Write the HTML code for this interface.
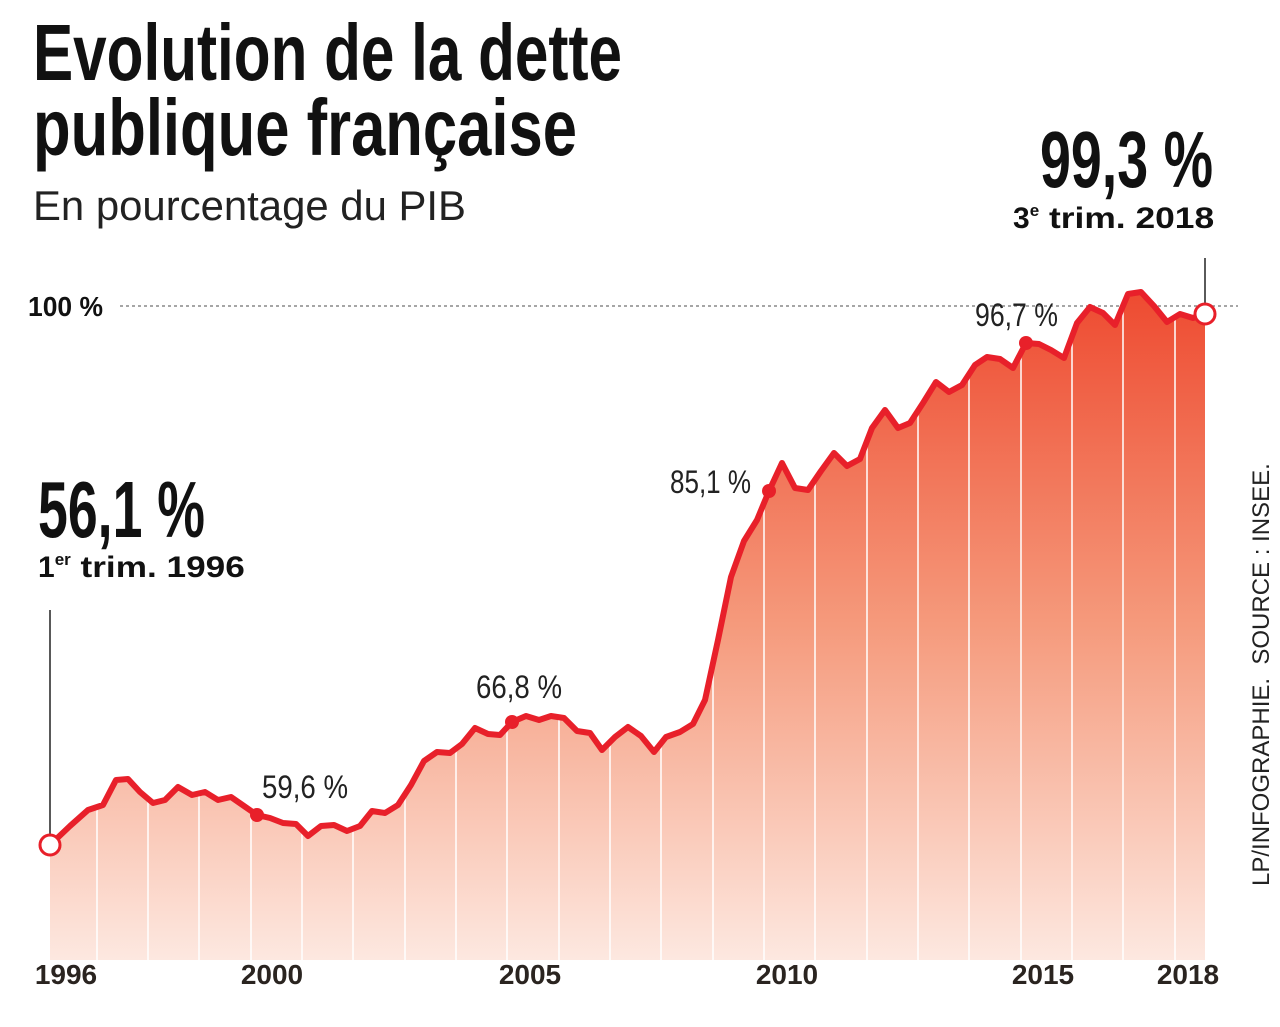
<!DOCTYPE html>
<html><head><meta charset="utf-8"><style>
body{margin:0;background:#fff;width:1280px;height:1027px;overflow:hidden;position:relative;font-family:"Liberation Sans",sans-serif;color:#111}
.t{position:absolute;white-space:nowrap}
</style></head><body>
<div class="t" style="left:1248px;top:886px;font-size:24px;color:#222;transform:rotate(-90deg);transform-origin:left top">LP/INFOGRAPHIE.&nbsp; SOURCE : INSEE.</div>
<svg width="1280" height="1027" style="position:absolute;left:0;top:0">
<defs><linearGradient id="g" x1="0" y1="290" x2="0" y2="960" gradientUnits="userSpaceOnUse">
<stop offset="0" stop-color="#ee4a30"/><stop offset="0.5" stop-color="#f59a7c"/><stop offset="1" stop-color="#fde8e0"/></linearGradient>
<clipPath id="c"><polygon points="50,960 50,845 70,826 88,810 103,805 116,780 128,779 140,792 153,803 165,800 178,787 192,795 205,792 218,800 231,797 244,806 257,815 270,818 283,823 296,824 308,836 321,826 334,825 347,831 360,826 372,811 385,813 398,805 411,785 424,761 437,752 450,753 462,744 475,728 488,734 500,735 512,722 526,716 539,720 551,716 564,718 577,731 590,733 602,750 615,737 628,727 641,736 654,752 666,737 680,732 693,724 705,700 718,640 731,577 744,541 757,520 769,491 782,463 795,488 808,490 821,471 834,453 847,466 860,459 872,428 885,410 898,428 910,423 923,403 936,382 949,392 962,385 975,365 987,357 1000,359 1013,368 1026,343 1039,344 1051,350 1064,358 1077,323 1090,307 1103,313 1115,325 1128,294 1141,292 1154,306 1167,322 1180,314 1193,318 1205,314 1205,960"/></clipPath></defs>
<line x1="120" y1="306" x2="1238" y2="306" stroke="#888" stroke-width="1.5" stroke-dasharray="3,3"/>
<line x1="1205" y1="258" x2="1205" y2="306" stroke="#222" stroke-width="1.5"/>
<line x1="50" y1="610" x2="50" y2="838" stroke="#222" stroke-width="1.5"/>
<g clip-path="url(#c)">
<rect x="40" y="280" width="1180" height="690" fill="url(#g)"/>
<g stroke="#fff" stroke-width="1.5">
<line x1="97" y1="280" x2="97" y2="960"/><line x1="148" y1="280" x2="148" y2="960"/><line x1="199" y1="280" x2="199" y2="960"/><line x1="251" y1="280" x2="251" y2="960"/><line x1="302" y1="280" x2="302" y2="960"/><line x1="353" y1="280" x2="353" y2="960"/><line x1="405" y1="280" x2="405" y2="960"/><line x1="456" y1="280" x2="456" y2="960"/><line x1="507" y1="280" x2="507" y2="960"/><line x1="559" y1="280" x2="559" y2="960"/><line x1="610" y1="280" x2="610" y2="960"/><line x1="661" y1="280" x2="661" y2="960"/><line x1="713" y1="280" x2="713" y2="960"/><line x1="764" y1="280" x2="764" y2="960"/><line x1="815" y1="280" x2="815" y2="960"/><line x1="867" y1="280" x2="867" y2="960"/><line x1="918" y1="280" x2="918" y2="960"/><line x1="969" y1="280" x2="969" y2="960"/><line x1="1021" y1="280" x2="1021" y2="960"/><line x1="1072" y1="280" x2="1072" y2="960"/><line x1="1123" y1="280" x2="1123" y2="960"/><line x1="1175" y1="280" x2="1175" y2="960"/>
</g></g>
<polyline fill="none" stroke="#e8202a" stroke-width="6" stroke-linejoin="round" points="50,845 70,826 88,810 103,805 116,780 128,779 140,792 153,803 165,800 178,787 192,795 205,792 218,800 231,797 244,806 257,815 270,818 283,823 296,824 308,836 321,826 334,825 347,831 360,826 372,811 385,813 398,805 411,785 424,761 437,752 450,753 462,744 475,728 488,734 500,735 512,722 526,716 539,720 551,716 564,718 577,731 590,733 602,750 615,737 628,727 641,736 654,752 666,737 680,732 693,724 705,700 718,640 731,577 744,541 757,520 769,491 782,463 795,488 808,490 821,471 834,453 847,466 860,459 872,428 885,410 898,428 910,423 923,403 936,382 949,392 962,385 975,365 987,357 1000,359 1013,368 1026,343 1039,344 1051,350 1064,358 1077,323 1090,307 1103,313 1115,325 1128,294 1141,292 1154,306 1167,322 1180,314 1193,318 1205,314"/>
<g fill="#e8202a"><circle cx="257" cy="815" r="7"/><circle cx="512" cy="722" r="7"/><circle cx="769" cy="491" r="7"/><circle cx="1026" cy="343" r="7"/></g>
<circle cx="50" cy="845" r="10" fill="#fff" stroke="#e8202a" stroke-width="3"/>
<circle cx="1205" cy="314" r="10" fill="#fff" stroke="#e8202a" stroke-width="3"/>
<g font-family="Liberation Sans Narrow,Liberation Sans,sans-serif" font-weight="bold" fill="#111" font-size="80">
<text x="33" y="80" textLength="589" lengthAdjust="spacingAndGlyphs">Evolution de la dette</text>
<text x="33" y="155" textLength="544" lengthAdjust="spacingAndGlyphs">publique française</text>
<text x="1040" y="187" textLength="173" lengthAdjust="spacingAndGlyphs">99,3 %</text>
<text x="38" y="537" textLength="167" lengthAdjust="spacingAndGlyphs">56,1 %</text>
<text x="28" y="316" font-size="28" textLength="75" lengthAdjust="spacingAndGlyphs">100 %</text>
</g>
<text x="33" y="220" font-family="Liberation Sans,sans-serif" font-size="42" fill="#222" textLength="433" lengthAdjust="spacingAndGlyphs">En pourcentage du PIB</text>
<g font-family="Liberation Sans,sans-serif" font-weight="bold" fill="#111" font-size="30">
<text x="1013" y="228">3<tspan font-size="17" dy="-12">e</tspan><tspan dy="12" textLength="175" lengthAdjust="spacingAndGlyphs"> trim. 2018</tspan></text>
<text x="38" y="577">1<tspan font-size="17" dy="-12">er</tspan><tspan dy="12" textLength="174" lengthAdjust="spacingAndGlyphs"> trim. 1996</tspan></text>
</g>
<g font-family="Liberation Sans Narrow,Liberation Sans,sans-serif" font-size="32" fill="#222">
<text x="262" y="798" textLength="86" lengthAdjust="spacingAndGlyphs">59,6 %</text>
<text x="476" y="698" textLength="86" lengthAdjust="spacingAndGlyphs">66,8 %</text>
<text x="670" y="493" textLength="81" lengthAdjust="spacingAndGlyphs">85,1 %</text>
<text x="975" y="326" textLength="83" lengthAdjust="spacingAndGlyphs">96,7 %</text>
</g>
<g font-family="Liberation Sans Narrow,Liberation Sans,sans-serif" font-size="28" font-weight="bold" fill="#2a2420" text-anchor="middle">
<text x="66" y="984">1996</text><text x="272" y="984">2000</text><text x="530" y="984">2005</text><text x="787" y="984">2010</text><text x="1043" y="984">2015</text><text x="1188" y="984">2018</text>
</g>
</svg>
</body></html>
